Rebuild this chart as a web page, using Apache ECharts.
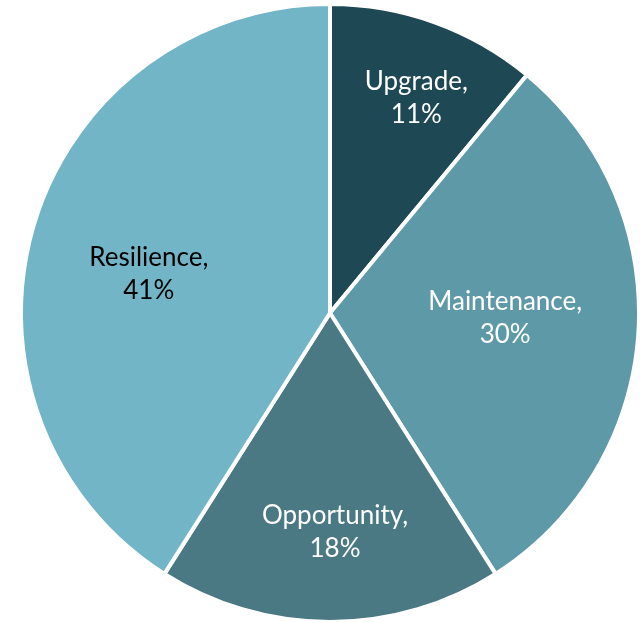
<!DOCTYPE html>
<html>
<head>
<meta charset="utf-8">
<script src="https://cdn.jsdelivr.net/npm/echarts@6/dist/echarts.min.js"></script>
<style>html,body{margin:0;padding:0;background:#fff;}#c{width:640px;height:622px;}</style>
</head>
<body>
<div id="c"></div>
<script>
const categories = ['Upgrade', 'Maintenance', 'Opportunity', 'Resilience'];
const values = [11, 30, 18, 41];

const colors = ['#1E4854', '#5E99A7', '#4A7883', '#72B5C6'];
const labelColors = ['#ffffff', '#ffffff', '#ffffff', '#000000'];
const labelOffsets = [[33, -67], [18, -5], [5, 62], [-30, 5]];

const chart = echarts.init(document.getElementById('c'), null, {renderer: 'canvas'});
chart.setOption({
  animation: false,
  series: [{
    type: 'pie',
    center: [330, 313],
    radius: 309,
    startAngle: 90,
    clockwise: true,
    itemStyle: {borderColor: '#ffffff', borderWidth: 4},
    label: {
      show: true,
      position: 'inside',
      fontFamily: 'Lato, "Open Sans", sans-serif',
      fontSize: 26,
      lineHeight: 33,
      align: 'center',
      formatter: p => p.name + ',\n' + p.value + '%'
    },
    labelLine: {show: false},
    emphasis: {disabled: true},
    data: categories.map((c, i) => ({
      name: c,
      value: values[i],
      itemStyle: {color: colors[i]},
      label: {color: labelColors[i], offset: labelOffsets[i]}
    }))
  }]
});
</script>
</body>
</html>
